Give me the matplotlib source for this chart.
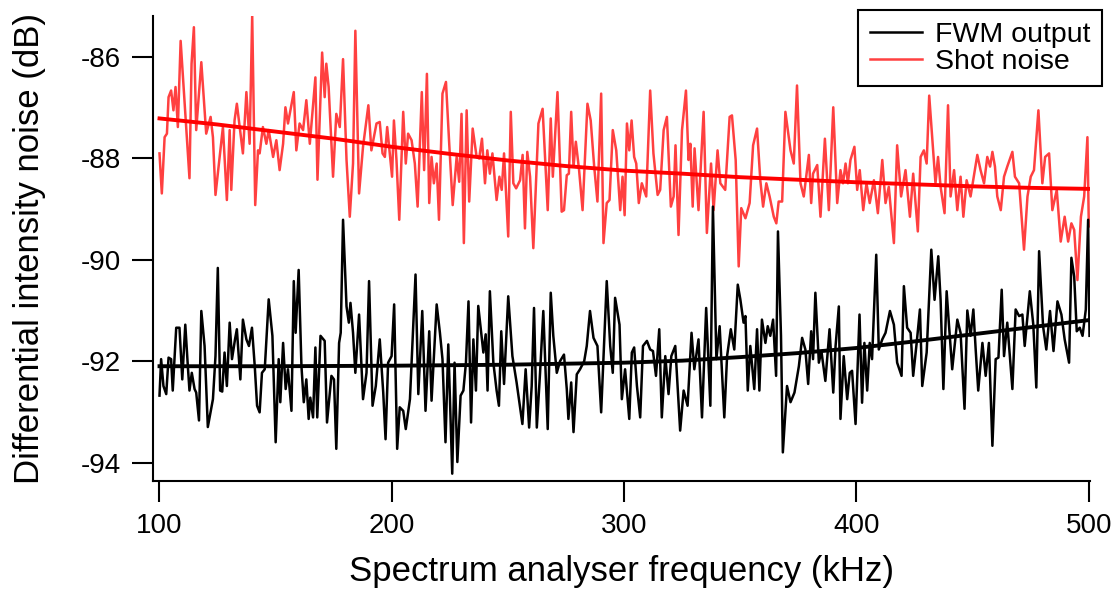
import matplotlib
matplotlib.use("Agg")
import matplotlib.pyplot as plt
from matplotlib.lines import Line2D

plt.rcParams['font.family'] = ['Liberation Sans', 'DejaVu Sans']
plt.rcParams['axes.unicode_minus'] = False

# shot noise trace (kHz, dB)
shot_freq = [100.0, 101.0, 102.2, 103.2, 103.9, 105.0, 106.0, 106.9, 107.9, 109.1,
             110.1, 111.5, 112.9, 113.8, 114.8, 115.8, 118.0, 120.1, 122.0, 123.0,
             124.1, 125.9, 127.3, 129.0, 130.2, 130.9, 132.3, 133.3, 135.9, 137.4,
             138.8, 139.9, 141.2, 142.4, 143.1, 144.5, 146.0, 147.0, 148.9, 150.3,
             151.7, 153.2, 154.2, 155.3, 157.8, 158.9, 160.3, 161.8, 163.2, 164.7,
             167.1, 168.0, 170.0, 171.1, 171.8, 172.8, 174.7, 176.1, 177.6, 179.0,
             180.5, 181.9, 183.3, 184.3, 185.9, 187.6, 189.9, 191.2, 193.4,
             194.8, 196.0, 197.0, 198.0, 199.1, 200.1, 200.9, 202.0, 203.2, 204.9,
             206.0, 207.0, 208.5, 209.9, 211.1, 212.9, 213.9, 215.1, 216.1, 217.1,
             218.1, 219.3, 220.3, 221.8, 223.3, 224.7, 226.2, 227.9, 229.0, 230.0,
             231.0, 232.2, 233.3, 234.8, 236.5, 237.6, 238.8, 240.1, 241.1, 242.2,
             243.3, 245.1, 246.3, 247.3, 248.3, 250.1, 251.2, 252.3, 253.5, 255.2,
             256.3, 257.3, 258.3, 259.5, 260.9, 263.1, 264.9, 267.1, 268.4, 269.3,
             271.3, 273.1, 274.1, 275.3, 276.2, 277.2, 278.2, 279.2, 280.6, 282.1,
             284.2, 285.6, 287.1, 288.5, 290.1, 291.1, 292.5, 293.7,
             295.1, 296.6, 298.3, 299.3, 300.2, 301.2, 302.2, 303.2, 304.3, 305.2,
             306.3, 307.6, 309.5, 311.2, 312.6, 314.4, 315.5, 317.0, 318.4, 320.1,
             321.3, 322.1, 323.4, 324.9, 326.6, 327.7, 328.5, 329.5, 330.3, 332.0,
             334.2, 335.6, 337.4, 338.5, 340.2, 341.4, 343.5, 345.4, 346.4, 348.0,
             349.3, 350.4, 352.2, 354.0, 355.5, 357.2, 358.6, 359.8, 361.2, 362.6,
             364.4, 365.5, 366.5, 368.0, 369.4, 371.6, 373.0, 374.4, 375.9, 377.3,
             379.5, 380.5, 381.3, 383.1, 384.5, 386.4, 388.1, 390.0, 391.7,
             393.1, 394.2, 395.3, 396.3, 397.4, 399.1, 400.3, 401.4, 402.9, 404.3,
             405.7, 407.5, 409.2, 411.1, 412.5, 413.9, 416.1, 417.5, 419.2, 421.1,
             423.0, 424.4, 426.4, 427.6, 429.0, 430.2, 431.3, 432.6, 434.0, 435.1,
             436.2, 437.9, 439.4, 440.5, 442.0, 443.4, 444.8, 446.0, 447.4, 449.1,
             452.0, 453.4, 454.9, 456.3, 457.5, 458.5, 459.6, 460.6, 462.1, 463.5,
             464.9, 467.1, 468.2, 470.0, 472.1, 473.6, 475.0, 476.4, 478.3, 480.0,
             481.2, 482.9, 484.3, 486.2, 487.9, 489.6, 491.1, 492.5, 493.7, 495.1,
             496.6, 498.0, 499.4, 500.0]
shot_db = [-87.90, -88.69, -87.58, -87.51, -86.79, -86.66, -87.05, -86.59, -87.38, -85.68,
           -86.40, -87.44, -88.39, -86.13, -85.41, -87.44, -86.10, -87.51, -87.18, -87.58,
           -88.72, -87.97, -87.38, -88.82, -87.44, -88.62, -87.25, -86.92, -87.90, -86.69,
           -87.71, -85.18, -88.92, -87.84, -87.90, -87.38, -87.71, -87.44, -87.97, -87.64,
           -88.23, -87.71, -86.99, -87.31, -86.69, -87.84, -87.31, -87.44, -86.85, -87.71,
           -86.40, -88.42, -85.91, -86.79, -86.13, -86.59, -88.36, -87.12, -87.38, -86.04,
           -88.03, -89.15, -88.10, -85.48, -88.69, -87.77, -86.95, -87.84, -87.31,
           -87.28, -87.90, -87.97, -87.38, -87.90, -88.36, -87.25, -88.03, -89.21, -87.08,
           -88.10, -87.51, -87.64, -88.10, -88.95, -86.69, -88.23, -86.33, -88.88, -87.97,
           -88.49, -88.10, -89.21, -86.72, -86.49, -87.71, -88.92, -87.97, -88.46, -87.12,
           -89.67, -87.05, -88.85, -87.41, -87.97, -88.00, -87.61, -88.49, -87.84, -88.30,
           -87.90, -88.82, -88.36, -88.62, -87.90, -89.54, -87.08, -88.49, -88.59, -88.43,
           -87.93, -89.38, -87.87, -88.36, -89.77, -87.31, -87.02, -89.02, -87.21, -88.36,
           -86.69, -89.05, -89.02, -88.33, -88.30, -87.08, -88.16, -87.67, -88.23, -89.02,
           -86.92, -87.25, -88.16, -88.85, -86.72, -89.67, -88.88, -88.82,
           -87.44, -87.84, -89.02, -88.36, -89.12, -87.31, -87.84, -87.25, -87.97, -88.10,
           -88.88, -88.49, -88.75, -86.66, -87.90, -88.72, -88.62, -87.44, -87.18, -88.95,
           -88.75, -87.74, -89.51, -87.44, -86.66, -88.03, -87.71, -88.95, -87.80, -89.02,
           -87.08, -89.47, -88.10, -89.02, -87.84, -88.49, -88.62, -87.18, -87.15, -88.03,
           -90.13, -88.98, -89.18, -88.88, -87.74, -87.41, -88.43, -88.95, -88.49, -88.75,
           -89.15, -89.28, -88.85, -88.85, -87.08, -87.84, -88.10, -86.56, -88.49, -88.75,
           -87.93, -88.88, -88.30, -88.13, -89.15, -87.61, -89.02, -86.99, -88.88,
           -88.23, -88.49, -88.10, -88.49, -88.03, -87.77, -88.62, -88.23, -89.02, -88.49,
           -88.88, -88.43, -89.08, -88.03, -88.88, -88.56, -89.67, -87.74, -88.75, -88.23,
           -89.15, -88.30, -89.44, -87.97, -87.84, -88.10, -86.76, -87.58, -88.49, -87.97,
           -88.56, -89.08, -86.95, -88.75, -88.23, -89.02, -88.36, -89.15, -88.43, -88.75,
           -87.93, -88.23, -88.49, -87.97, -88.16, -87.87, -88.16, -88.75, -89.02, -88.36,
           -88.16, -87.87, -88.36, -88.49, -89.80, -88.75, -88.36, -88.23, -87.05, -88.49,
           -87.97, -87.90, -89.02, -88.62, -89.64, -89.15, -89.64, -89.28, -89.41, -90.40,
           -89.15, -88.75, -87.58, -89.34]

# FWM output trace (kHz, dB)
fwm_freq = [100.0, 100.7, 101.7, 102.9, 103.9, 105.0, 105.7, 107.2, 108.6, 109.8,
            111.1, 112.2, 112.9, 113.9, 115.1, 115.8, 117.0, 118.0, 119.4, 120.8,
            123.0, 124.1, 125.1, 126.1, 127.0, 128.0, 129.0, 130.2, 131.2, 132.5,
            133.3, 134.8, 135.9, 137.4, 138.5, 139.8, 141.0, 142.0, 143.1, 144.1,
            145.3, 147.0, 148.6, 150.0, 151.3, 152.0, 153.2, 154.3, 155.3, 156.8,
            157.8, 158.6, 159.9, 161.1, 162.1, 163.2, 164.2, 164.9, 166.1, 167.1,
            167.9, 169.3, 171.1, 172.1, 174.0, 175.1, 176.1, 177.3, 178.0, 179.0,
            180.5, 181.5, 182.2, 183.3, 184.3, 185.9, 187.6, 189.1, 190.2, 191.7,
            193.1,
            194.8, 196.3, 197.3, 198.4, 199.9, 201.0, 202.3, 203.4, 204.9, 206.0,
            207.8, 209.2, 210.2, 211.4, 213.1, 214.5, 216.1, 217.1, 219.3, 220.7,
            221.8, 223.1, 224.3, 226.0, 227.0, 228.2, 229.6, 230.8, 231.9, 233.0,
            234.1, 235.1, 236.2, 237.2, 238.4, 239.4, 240.4, 241.2, 242.2, 243.7,
            245.1, 246.1, 247.1, 248.3, 250.1, 251.9, 253.7, 256.2, 257.6, 259.1,
            260.2, 261.2, 262.4, 263.8, 265.2, 267.1, 268.4, 269.5, 271.0, 272.4,
            274.1, 275.3, 276.0, 277.2, 278.2, 279.6, 281.0, 282.8, 283.9, 285.3,
            286.8, 288.5, 290.1, 292.5,
            294.0, 295.1, 296.1, 298.0, 299.0, 300.4, 302.2, 303.3, 304.3, 305.5,
            306.9, 308.1, 309.8, 311.2, 312.4, 313.7, 315.1, 316.2, 317.7, 319.1,
            320.3, 322.0, 324.1, 325.6, 327.3, 329.0, 330.2, 332.0, 333.5, 335.3,
            337.1, 338.2, 339.7, 341.1, 343.1, 344.3, 345.9, 347.4, 348.9, 350.0,
            351.4, 352.2, 353.2, 354.3, 356.0, 357.2, 358.2, 359.3, 360.8, 361.8,
            362.9, 364.1, 365.4, 366.2, 367.5, 368.3, 370.1, 371.6, 373.3, 375.2,
            376.6, 378.0, 379.2, 380.5, 381.3, 382.3, 383.8, 384.9, 386.6, 388.4,
            390.0, 391.0, 392.4,
            393.1, 394.5, 396.0, 397.1, 398.1, 399.6, 401.3, 402.4, 403.4, 404.6,
            405.7, 406.7, 408.5, 409.6, 411.1, 412.5, 414.4, 416.1, 417.5, 419.4,
            420.4, 421.8, 423.3, 424.4, 425.9, 427.3, 428.3, 430.2, 432.2, 433.6,
            435.2, 436.2, 437.4, 438.8, 439.8, 441.2, 443.4, 444.8, 446.5, 447.7,
            449.1, 450.3, 451.3, 452.4, 454.2, 455.6, 457.0, 458.5, 459.9, 461.1,
            462.5, 463.5, 464.9, 467.1, 468.5, 470.0, 471.4, 472.4, 474.6, 476.1,
            477.4, 478.6, 480.3, 481.7, 483.3, 484.8, 486.5, 488.2, 489.6, 491.5,
            492.5, 493.7, 494.8, 496.1, 497.3, 498.7, 499.7, 500.3]
fwm_db = [-92.68, -91.96, -92.49, -92.65, -91.93, -91.96, -92.58, -91.34, -91.34, -92.36,
          -91.28, -92.10, -92.58, -92.23, -92.55, -92.62, -93.17, -91.01, -91.70, -93.30,
          -92.75, -91.90, -90.16, -92.58, -92.60, -91.83, -92.49, -91.24, -91.96, -91.57,
          -91.37, -92.36, -91.18, -91.57, -91.70, -91.34, -92.10, -92.88, -93.01, -92.23,
          -92.16, -90.78, -91.50, -93.60, -91.96, -92.81, -91.64, -92.55, -92.16, -92.98,
          -90.42, -91.44, -90.20, -92.10, -92.81, -92.36, -93.14, -92.72, -93.11, -91.73,
          -93.11, -91.50, -91.60, -93.21, -92.29, -92.36, -93.73, -91.64, -91.44, -89.21,
          -90.92, -91.24, -90.85, -91.44, -92.23, -91.08, -92.75, -92.23, -90.42, -92.88,
          -92.49,
          -91.57, -92.62, -93.54, -92.03, -91.90, -90.88, -93.73, -92.91, -92.98, -93.34,
          -92.75, -91.31, -90.29, -92.65, -91.01, -92.98, -91.41, -92.78, -90.88, -91.44,
          -91.96, -93.60, -91.67, -94.22, -92.03, -93.99, -92.68, -92.58, -92.03, -90.82,
          -93.21, -91.57, -92.58, -90.91, -91.41, -91.83, -91.47, -92.58, -90.62, -92.03,
          -92.58, -92.88, -91.41, -92.45, -90.72, -91.90, -92.42, -93.24, -92.16, -93.31,
          -92.49, -90.95, -93.31, -92.23, -91.01, -93.34, -90.65, -91.50, -92.23, -92.00,
          -91.87, -92.55, -93.14, -92.42, -93.40, -92.26, -92.16, -92.00, -91.70, -91.01,
          -91.54, -91.70, -93.01, -90.42,
          -91.70, -92.23, -90.75, -91.28, -92.75, -92.16, -93.14, -91.83, -91.73, -92.49,
          -93.11, -91.70, -91.60, -91.77, -91.80, -92.29, -91.37, -93.11, -91.90, -92.65,
          -91.90, -91.70, -93.37, -92.58, -92.88, -91.44, -92.16, -91.57, -93.11, -90.95,
          -92.88, -88.95, -91.96, -91.31, -93.11, -91.90, -91.37, -91.77, -90.49, -90.78,
          -91.24, -91.11, -92.58, -91.70, -92.55, -91.37, -92.58, -91.18, -91.64, -91.31,
          -91.50, -91.18, -92.29, -89.44, -91.50, -93.80, -92.49, -92.81, -92.62, -92.10,
          -91.54, -91.77, -92.45, -91.41, -91.96, -90.65, -92.03, -91.80, -92.39, -91.37,
          -92.62, -91.70, -90.92,
          -93.14, -91.90, -92.75, -92.23, -92.19, -93.24, -91.08, -92.82, -91.64, -92.58,
          -91.64, -91.96, -89.90, -91.77, -91.57, -91.44, -91.01, -91.28, -92.03, -92.29,
          -90.52, -91.34, -91.44, -92.29, -91.64, -90.98, -92.49, -91.83, -89.80, -90.79,
          -89.93, -90.79, -92.55, -90.62, -91.28, -92.16, -91.18, -91.44, -92.94, -91.00,
          -91.50, -90.98, -91.77, -92.58, -91.64, -92.29, -91.64, -93.67, -91.96, -91.93,
          -90.59, -91.90, -91.24, -92.55, -90.98, -91.11, -91.08, -91.70, -90.62, -91.28,
          -92.52, -89.83, -91.31, -91.77, -91.01, -91.80, -90.82, -91.08, -91.57, -92.03,
          -89.96, -90.33, -91.41, -91.34, -91.50, -90.98, -89.21, -91.50]

# smooth fitted curves
shot_fit_freq = [100, 125, 150, 175, 200, 225, 250, 275, 300, 325, 350, 375, 400, 425, 450, 475, 500]
shot_fit_db = [-87.21, -87.33, -87.47, -87.61, -87.77, -87.91, -88.04, -88.15, -88.24,
               -88.30, -88.37, -88.42, -88.47, -88.51, -88.55, -88.58, -88.60]
fwm_fit_freq = [100, 150, 200, 250, 300, 325, 350, 375, 400, 425, 450, 475, 500]
fwm_fit_db = [-92.10, -92.10, -92.09, -92.07, -92.03, -91.99, -91.92, -91.84, -91.74,
              -91.61, -91.47, -91.33, -91.19]

xticks = [100, 200, 300, 400, 500]
yticks = [-86, -88, -90, -92, -94]

fig = plt.figure(figsize=(11.2, 5.95), dpi=100)
ax = fig.add_axes([0.1366, 0.192, 0.8366, 0.781])

ax.plot(shot_freq, shot_db, color="#ff4040", lw=1.8)
ax.plot(shot_fit_freq, shot_fit_db, color="#ff0000", lw=2.8)
ax.plot(fwm_freq, fwm_db, color="black", lw=1.8)
ax.plot(fwm_fit_freq, fwm_fit_db, color="black", lw=2.8)

ax.set_xlim(97.2, 500.5)
ax.set_ylim(-94.36, -85.19)
ax.set_xticks(xticks)
ax.set_yticks(yticks)
ax.tick_params(direction="out", length=15, width=1.5, labelsize=20, pad=8)

for s in ["top", "right"]:
    ax.spines[s].set_visible(False)
for s in ["left", "bottom"]:
    ax.spines[s].set_linewidth(1.5)

ax.set_xlabel("Spectrum analyser frequency (kHz)", fontsize=25, labelpad=12)
ax.set_ylabel("Differential intensity noise (dB)", fontsize=25, labelpad=25)

handles = [Line2D([], [], color="black", lw=1.8),
           Line2D([], [], color="#ff4040", lw=1.8)]
leg = ax.legend(handles, ["FWM output", "Shot noise"], loc="upper right",
                bbox_to_anchor=(0.984, 0.983), bbox_transform=fig.transFigure,
                borderaxespad=0, fontsize=20.5, fancybox=False, framealpha=1,
                handlelength=1.85, handletextpad=0.45, borderpad=0.4, labelspacing=0.05)
leg.get_frame().set_edgecolor("black")
leg.get_frame().set_linewidth(1.5)

fig.savefig("out.png", dpi=100)
